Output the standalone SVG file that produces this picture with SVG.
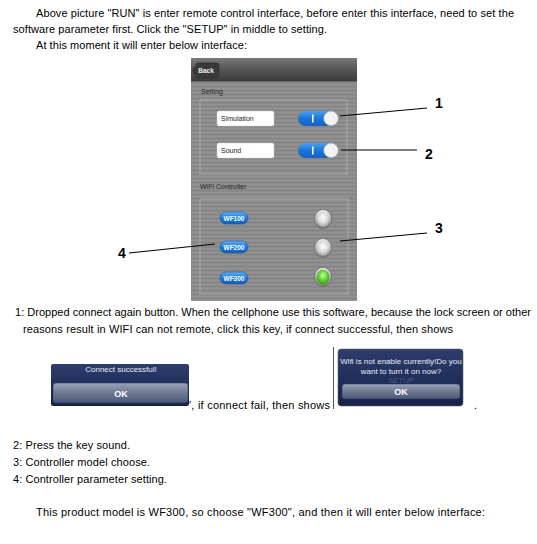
<svg xmlns="http://www.w3.org/2000/svg" width="537" height="544" viewBox="0 0 537 544">
<defs>
<style>
.t{font-family:"Liberation Sans",Arial,sans-serif;font-size:11px;fill:#000}
.num{font-family:"Liberation Sans",Arial,sans-serif;font-size:14px;font-weight:bold;fill:#000}
.sm{font-family:"Liberation Sans",Arial,sans-serif;font-size:7px;fill:#222}
.lbl{font-family:"Liberation Sans",Arial,sans-serif;font-size:7px;fill:#2a2a2a}
.wf{font-family:"Liberation Sans",Arial,sans-serif;font-size:6.5px;font-weight:bold;fill:#fff}
.dt{font-family:"Liberation Sans",Arial,sans-serif;font-size:8px;fill:#e8ecf5}
.ok{font-family:"Liberation Sans",Arial,sans-serif;font-size:9px;font-weight:bold;fill:#fff}
.conn{stroke:#000;stroke-width:1.2;fill:none}
.field{fill:#fff;stroke:#ccc;stroke-width:0.5}
.box{fill:none;stroke:#b0b0b0;stroke-width:0.8}
.wfbtn{fill:url(#wfb);stroke:#0e4e9c;stroke-width:0.5}
.ring{fill:url(#ringg);stroke:#5a5a5a;stroke-width:0.6}
</style>
<pattern id="streak" width="6" height="4" patternUnits="userSpaceOnUse">
<rect width="6" height="4" fill="#8b8b8b"/>
<rect y="0" width="6" height="1" fill="#939393"/>
<rect y="2" width="6" height="1" fill="#858585"/>
</pattern>
<linearGradient id="hdr" x1="0" y1="0" x2="0" y2="1">
<stop offset="0" stop-color="#7a7a7a"/><stop offset="0.5" stop-color="#555"/><stop offset="1" stop-color="#3c3c3c"/>
</linearGradient>
<linearGradient id="tog" x1="0" y1="0" x2="0" y2="1">
<stop offset="0" stop-color="#4aa0f0"/><stop offset="0.5" stop-color="#1b74d8"/><stop offset="1" stop-color="#1562c2"/>
</linearGradient>
<linearGradient id="wfb" x1="0" y1="0" x2="0" y2="1">
<stop offset="0" stop-color="#5ab0f5"/><stop offset="0.5" stop-color="#1e7ad8"/><stop offset="1" stop-color="#145fb8"/>
</linearGradient>
<linearGradient id="ringg" x1="0" y1="0" x2="0" y2="1">
<stop offset="0" stop-color="#f4f4f4"/><stop offset="1" stop-color="#7c7c7c"/>
</linearGradient>
<radialGradient id="grey" cx="0.5" cy="0.4" r="0.6">
<stop offset="0" stop-color="#ffffff"/><stop offset="0.6" stop-color="#dadada"/><stop offset="1" stop-color="#a8a8a8"/>
</radialGradient>
<radialGradient id="green" cx="0.5" cy="0.4" r="0.6">
<stop offset="0" stop-color="#c8ff9a"/><stop offset="0.5" stop-color="#6ad63a"/><stop offset="1" stop-color="#3a9a1a"/>
</radialGradient>
<linearGradient id="dlg" x1="0" y1="0" x2="0" y2="1">
<stop offset="0" stop-color="#2d3d6c"/><stop offset="1" stop-color="#15214a"/>
</linearGradient>
<linearGradient id="okb" x1="0" y1="0" x2="0" y2="1">
<stop offset="0" stop-color="#9aa3b8"/><stop offset="0.5" stop-color="#6d7892"/><stop offset="1" stop-color="#4a5676"/>
</linearGradient>
</defs>
<rect width="537" height="544" fill="#fff"/>

<g id="intro-text">
<text class="t" x="36" y="17" textLength="478" lengthAdjust="spacing">Above picture "RUN" is enter remote control interface, before enter this interface, need to set the</text>
<text class="t" x="13" y="33" textLength="314" lengthAdjust="spacing">software parameter first. Click the "SETUP" in middle to setting.</text>
<text class="t" x="36" y="49" textLength="211" lengthAdjust="spacing">At this moment it will enter below interface:</text>
</g>

<g id="phone">
<rect x="191" y="58" width="166" height="243" fill="url(#streak)"/>
<rect x="191" y="58" width="166" height="23" fill="url(#hdr)"/>
<rect x="191" y="81" width="166" height="1" fill="#6a6a6a"/>
<g id="back-button">
<path d="M197,63 H217 Q219,63 219,65 V76 Q219,78 217,78 H197 L192.5,70.5 Z" fill="#3a3a3a" stroke="#2a2a2a" stroke-width="0.6"/>
<text x="206" y="73" text-anchor="middle" font-family="Liberation Sans, Arial, sans-serif" font-size="6.5" font-weight="bold" fill="#eee">Back</text>
</g>
<text class="lbl" x="201" y="94">Setting</text>
<rect class="box" x="200" y="100" width="147" height="74"/>
<g id="simulation">
<rect class="field" x="217" y="111" width="57" height="15" rx="2"/>
<text class="sm" x="221" y="121">Simulation</text>
<rect x="298" y="111" width="40" height="15" rx="7.5" fill="url(#tog)"/>
<rect x="312" y="114.5" width="1.5" height="8" fill="#fff"/>
<circle cx="331" cy="118.5" r="7.2" fill="#f2f2f2" stroke="#bbb" stroke-width="0.5"/>
</g>
<g id="sound">
<rect class="field" x="217" y="143" width="57" height="15" rx="2"/>
<text class="sm" x="221" y="153">Sound</text>
<rect x="298" y="143" width="40" height="15" rx="7.5" fill="url(#tog)"/>
<rect x="312" y="146.5" width="1.5" height="8" fill="#fff"/>
<circle cx="331" cy="150.5" r="7.2" fill="#f2f2f2" stroke="#bbb" stroke-width="0.5"/>
</g>
<text class="lbl" x="200" y="189">WiFi Controller</text>
<rect class="box" x="200" y="199" width="148" height="95"/>
<g id="wf100">
<rect class="wfbtn" x="220" y="212" width="28" height="12" rx="6"/>
<text class="wf" x="234" y="220.5" text-anchor="middle">WF100</text>
<ellipse class="ring" cx="323" cy="219" rx="8.5" ry="9.5"/>
<ellipse cx="323" cy="219" rx="6.5" ry="7.5" fill="url(#grey)"/>
</g>
<g id="wf200">
<rect class="wfbtn" x="220" y="241" width="28" height="12" rx="6"/>
<text class="wf" x="234" y="249.5" text-anchor="middle">WF200</text>
<ellipse class="ring" cx="323" cy="248" rx="8.5" ry="9.5"/>
<ellipse cx="323" cy="248" rx="6.5" ry="7.5" fill="url(#grey)"/>
</g>
<g id="wf300">
<rect class="wfbtn" x="220" y="272" width="28" height="12" rx="6"/>
<text class="wf" x="234" y="280.5" text-anchor="middle">WF300</text>
<ellipse class="ring" cx="323" cy="277" rx="8.5" ry="9.5"/>
<ellipse cx="323" cy="277" rx="6.5" ry="7.5" fill="url(#green)"/>
</g>
</g>

<g id="connectors">
<line class="conn" x1="340" y1="116" x2="427" y2="108"/>
<line class="conn" x1="341" y1="150" x2="417" y2="150"/>
<line class="conn" x1="340" y1="241" x2="427" y2="233"/>
<line class="conn" x1="129" y1="253" x2="215" y2="244"/>
</g>

<g id="callout-1"><text class="num" x="435" y="108">1</text></g>
<g id="callout-2"><text class="num" x="425" y="159">2</text></g>
<g id="callout-3"><text class="num" x="435" y="233">3</text></g>
<g id="callout-4"><text class="num" x="118" y="258">4</text></g>

<g id="note-1">
<text class="t" x="15" y="316" textLength="516" lengthAdjust="spacing">1: Dropped connect again button. When the cellphone use this software, because the lock screen or other</text>
<text class="t" x="23" y="333" textLength="430" lengthAdjust="spacing">reasons result in WIFI can not remote, click this key, if connect successful, then shows</text>
</g>

<g id="dialog-success">
<rect x="51" y="364" width="138" height="42" rx="2" fill="url(#dlg)"/>
<text class="dt" x="121" y="372" text-anchor="middle">Connect successful!</text>
<rect x="53" y="383" width="135" height="20" rx="3" fill="url(#okb)" stroke="#2a3558" stroke-width="0.5"/>
<text class="ok" x="121" y="397" text-anchor="middle">OK</text>
</g>
<text class="t" x="189" y="409" textLength="141" lengthAdjust="spacing">', if connect fail, then shows</text>

<g id="dialog-fail">
<rect x="333" y="347" width="1" height="62" fill="#555"/>
<rect x="338" y="349" width="125" height="57" rx="3" fill="url(#dlg)" stroke="#666" stroke-width="0.6"/>
<text x="401" y="383" text-anchor="middle" font-family="Liberation Sans, Arial, sans-serif" font-size="8" font-style="italic" fill="#4a5a88">SETUP</text>
<text class="dt" x="401" y="364" text-anchor="middle">Wifi is not enable currently!Do you</text>
<text class="dt" x="401" y="374" text-anchor="middle">want to turn it on now?</text>
<rect x="342" y="384" width="118" height="15" rx="3" fill="url(#okb)" stroke="#2a3558" stroke-width="0.5"/>
<text class="ok" x="401" y="395" text-anchor="middle">OK</text>
</g>
<text class="t" x="474" y="409">.</text>

<g id="notes">
<text class="t" x="13" y="449" textLength="117" lengthAdjust="spacing">2: Press the key sound.</text>
<text class="t" x="13" y="466" textLength="137" lengthAdjust="spacing">3: Controller model choose.</text>
<text class="t" x="13" y="483" textLength="154" lengthAdjust="spacing">4: Controller parameter setting.</text>
<text class="t" x="36" y="516" textLength="449" lengthAdjust="spacing">This product model is WF300, so choose "WF300", and then it will enter below interface:</text>
</g>
</svg>
